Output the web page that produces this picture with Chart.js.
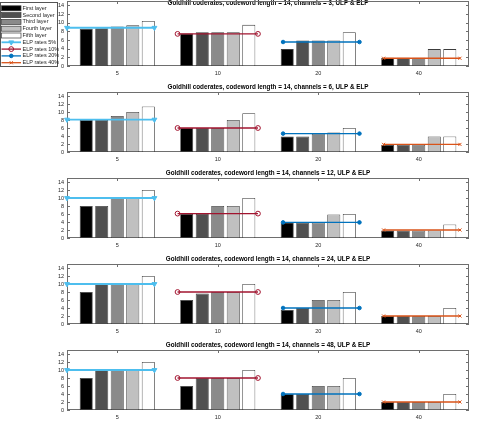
<!DOCTYPE html>
<html>
<head>
<meta charset="utf-8">
<script src="https://cdn.jsdelivr.net/npm/chart.js@4.4.0/dist/chart.umd.min.js"></script>
<style>
  html, body { margin: 0; padding: 0; background: #fff; }
  body { width: 477px; height: 426px; position: relative; overflow: hidden; }
  canvas { position: absolute; left: 0; }
</style>
</head>
<body>
<script>
const coderates = ['5', '10', '20', '40'];
const channels = [3, 6, 12, 24, 48];
const layerNames = ['First layer', 'Second layer', 'Third layer', 'Fourth layer', 'Fifth layer'];
const elpNames = ['ELP rates 5%', 'ELP rates 10%', 'ELP rates 20%', 'ELP rates 40%'];

// one row per layer, values at coderate 5, 10, 20, 40
const ch3Layers = [
    [8.6, 7.5, 3.9, 1.9],
    [8.7, 7.8, 5.9, 1.9],
    [9.1, 7.8, 5.9, 1.9],
    [9.4, 7.8, 5.9, 3.9],
    [10.4, 9.5, 7.8, 3.9]
];
const ch6Layers = [
    [8, 6, 3.9, 1.8],
    [8, 6, 3.9, 1.8],
    [9, 6, 4.6, 1.8],
    [10, 8, 4.9, 3.9],
    [11.4, 9.7, 6, 3.9]
];
const ch12Layers = [
    [8, 6, 3.9, 1.9],
    [8, 6, 3.9, 1.9],
    [10, 8, 3.9, 1.9],
    [10, 8, 5.9, 1.9],
    [12, 10, 6, 3.4]
];
const ch24Layers = [
    [8, 6, 3.5, 2],
    [10, 7.6, 4, 2],
    [10, 8, 6, 2],
    [10, 8, 6, 2],
    [12, 10, 8, 4]
];
const ch48Layers = [
    [8, 6, 4, 2],
    [10, 8, 4, 2],
    [10, 8, 6, 2],
    [10, 8, 6, 2],
    [12, 10, 8, 4]
];

// ELP rate levels (5%, 10%, 20%, 40%) for each channel count
const ch3Elp = [9.4, 7.9, 5.9, 1.9];
const ch6Elp = [8.1, 6, 4.6, 1.9];
const ch12Elp = [10, 6.1, 3.9, 2];
const ch24Elp = [10, 8, 4, 2];
const ch48Elp = [10, 8, 4, 2];

// horizontal extent of each ELP segment, in category units (1 = coderate 5)
const elpStartX = [0.5, 1.6, 2.65, 3.65];
const elpEndX = [1.37, 2.4, 3.41, 4.41];

const allLayers = [ch3Layers, ch6Layers, ch12Layers, ch24Layers, ch48Layers];
const allElp = [ch3Elp, ch6Elp, ch12Elp, ch24Elp, ch48Elp];

const layerColors = ['#000000', '#505050', '#8a8a8a', '#c0c0c0', '#ffffff'];
const elpStyles = [
    {color: '#4DBEEE', pointStyle: 'triangle', rotation: 180, radius: 2.8, fill: '#4DBEEE', width: 1.8},
    {color: '#A2142F', pointStyle: 'circle', rotation: 0, radius: 2.4, fill: 'rgba(0,0,0,0)', width: 1.3},
    {color: '#0072BD', pointStyle: 'circle', rotation: 0, radius: 1.8, fill: '#0072BD', width: 1.3},
    {color: '#D95319', pointStyle: 'crossRot', rotation: 0, radius: 2.2, fill: '#D95319', width: 1.3}
];

const fontFamily = '"Liberation Sans", Arial, Helvetica, sans-serif';

const framePlugin = {
    id: 'matlabFrame',
    beforeDatasetsDraw(chart) {
        const {ctx, chartArea: a, scales} = chart;
        ctx.save();
        ctx.strokeStyle = '#6e6e6e';
        ctx.lineWidth = 1;
        ctx.strokeRect(a.left + 0.5, a.top + 0.5, a.width - 1, a.height - 1);
        ctx.beginPath();
        scales.y.ticks.forEach(t => {
            const y = Math.round(scales.y.getPixelForValue(t.value)) + 0.5;
            ctx.moveTo(a.left, y); ctx.lineTo(a.left + 3, y);
            ctx.moveTo(a.right, y); ctx.lineTo(a.right - 3, y);
        });
        scales.x.ticks.forEach((t, i) => {
            const x = Math.round(scales.x.getPixelForTick(i)) + 0.5;
            ctx.moveTo(x, a.top); ctx.lineTo(x, a.top + 3);
            ctx.moveTo(x, a.bottom); ctx.lineTo(x, a.bottom - 3);
        });
        ctx.stroke();
        ctx.restore();
    }
};

// MATLAB-style legend box in the top-left corner, built from the datasets of both layers
const legendPlugin = {
    id: 'boxLegend',
    afterDraw(chart, args, opts) {
        if (!opts.show) return;
        const ctx = chart.ctx;
        const entries = opts.barChart.data.datasets.concat(chart.data.datasets);
        ctx.save();
        ctx.fillStyle = '#ffffff';
        ctx.fillRect(0, 2, 57, 64);
        ctx.strokeStyle = '#555555';
        ctx.lineWidth = 1;
        ctx.strokeRect(0.5, 2.5, 57, 64);
        ctx.font = '5.5px ' + fontFamily;
        ctx.textBaseline = 'middle';
        entries.forEach((ds, i) => {
            const cy = 8.3 + i * 6.8;
            if (ds.type === 'line') {
                ctx.strokeStyle = ds.borderColor;
                ctx.lineWidth = ds.borderWidth;
                ctx.beginPath();
                ctx.moveTo(1.5, cy); ctx.lineTo(21, cy);
                ctx.stroke();
                ctx.fillStyle = ds.pointBackgroundColor;
                ctx.lineWidth = 1;
                Chart.helpers.drawPoint(ctx, {
                    pointStyle: ds.pointStyle, rotation: ds.pointRotation,
                    radius: ds.pointRadius, borderWidth: 1
                }, 11.25, cy);
            } else {
                ctx.fillStyle = ds.backgroundColor;
                ctx.fillRect(1.5, cy - 2.5, 19.5, 5);
                ctx.strokeStyle = '#3c3c3c';
                ctx.lineWidth = 0.7;
                ctx.strokeRect(1.5, cy - 2.5, 19.5, 5);
            }
            ctx.fillStyle = '#262626';
            ctx.fillText(ds.label, 22.5, cy);
        });
        ctx.restore();
    }
};

function buildBars(layers) {
    return layers.map((values, i) => ({
        type: 'bar',
        label: layerNames[i],
        data: values,
        backgroundColor: layerColors[i],
        borderColor: '#3c3c3c',
        borderWidth: 0.8,
        borderSkipped: false,
        categoryPercentage: 0.772,
        barPercentage: 0.84
    }));
}

function buildLines(elp) {
    return elp.map((level, i) => ({
        type: 'line',
        label: elpNames[i],
        data: [{x: elpStartX[i], y: level}, {x: elpEndX[i], y: level}],
        borderColor: elpStyles[i].color,
        borderWidth: elpStyles[i].width,
        pointStyle: elpStyles[i].pointStyle,
        pointRotation: elpStyles[i].rotation,
        pointRadius: elpStyles[i].radius,
        pointBackgroundColor: elpStyles[i].fill,
        pointBorderColor: elpStyles[i].color,
        pointBorderWidth: 1,
        clip: false
    }));
}

function addCanvas(top, height) {
    const canvas = document.createElement('canvas');
    canvas.width = 477;
    canvas.height = height;
    canvas.style.top = top + 'px';
    document.body.appendChild(canvas);
    return canvas;
}

function makePanel(idx, top, height, areaTop, titlePadding) {
    const barChart = new Chart(addCanvas(top, height), {
        type: 'bar',
        data: {labels: coderates, datasets: buildBars(allLayers[idx])},
        options: {
            responsive: false,
            animation: false,
            devicePixelRatio: 1,
            layout: {padding: {left: 0, right: 8, top: 0, bottom: 0}},
            plugins: {
                legend: {display: false},
                tooltip: {enabled: false},
                title: {
                    display: true,
                    fullSize: false,
                    text: 'Goldhill coderates, codeword length = 14, channels = ' + channels[idx] + ', ULP & ELP',
                    font: {family: fontFamily, size: 6.3, weight: 'bold'},
                    color: '#000000',
                    padding: titlePadding
                }
            },
            scales: {
                x: {
                    type: 'category',
                    offset: true,
                    grid: {display: false, drawTicks: false},
                    border: {display: false},
                    ticks: {font: {family: fontFamily, size: 5.5}, color: '#262626', padding: 4, maxRotation: 0},
                    afterFit: s => { s.height = 10; s.paddingLeft = 0; s.paddingRight = 0; }
                },
                y: {
                    min: 0,
                    max: 15,
                    grid: {display: false, drawTicks: false},
                    border: {display: false},
                    ticks: {stepSize: 2, autoSkip: false, includeBounds: false, font: {family: fontFamily, size: 5.5}, color: '#262626', padding: 3},
                    afterFit: s => { s.width = 67; s.paddingTop = 0; s.paddingBottom = 0; }
                }
            }
        },
        plugins: [framePlugin]
    });

    // ELP rate segments, on a linear x scale laid exactly over the bar plot area
    new Chart(addCanvas(top, height), {
        type: 'line',
        data: {datasets: buildLines(allElp[idx])},
        options: {
            responsive: false,
            animation: false,
            devicePixelRatio: 1,
            layout: {padding: {left: 67, right: 8, top: areaTop, bottom: 10}},
            plugins: {
                legend: {display: false},
                tooltip: {enabled: false},
                boxLegend: {show: idx === 0, barChart: barChart}
            },
            scales: {
                x: {type: 'linear', display: false, min: 0.5, max: 4.5},
                y: {type: 'linear', display: false, min: 0, max: 15}
            }
        },
        plugins: [legendPlugin]
    });
}

makePanel(0, 0, 76, 1, {top: -0.8, bottom: -5.76});
makePanel(1, 76, 86, 16, {top: 7.8, bottom: 0.64});
makePanel(2, 162, 86, 16, {top: 7.8, bottom: 0.64});
makePanel(3, 248, 86, 16, {top: 7.8, bottom: 0.64});
makePanel(4, 334, 86, 16, {top: 7.8, bottom: 0.64});
</script>
</body>
</html>
